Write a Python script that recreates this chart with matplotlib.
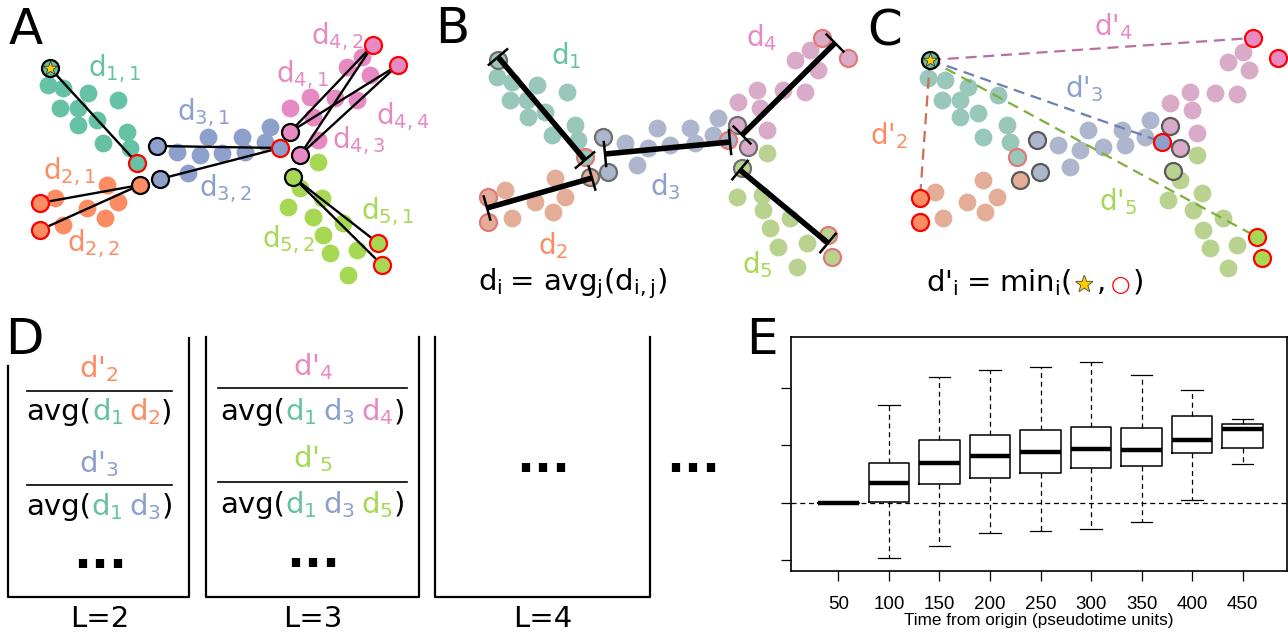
import numpy as np
import matplotlib
matplotlib.use('Agg')
import matplotlib.pyplot as plt
import matplotlib.patheffects as pe
from matplotlib.colors import to_rgb

plt.rcParams['mathtext.default'] = 'regular'
plt.rcParams['mathtext.fontset'] = 'dejavusans'

W, H = 1288, 635

# Set2 colours for the five branches
GREEN, ORANGE, BLUE, PINK, LIME = '#66c2a5', '#fc8d62', '#8da0cb', '#e78ac3', '#a6d854'

# ---- panel A points (pixel positions) ----
a_green = [(48, 85), (63, 88), (88, 93), (118, 100), (60, 108), (78, 108), (97, 120), (78, 125),
           (127, 132), (103, 143), (130, 148)]
a_orange = [(55, 198), (107, 185), (118, 202), (87, 208), (105, 218), (63, 225)]
a_blue = [(208, 137), (242, 137), (270, 127), (177, 152), (200, 155), (222, 153), (245, 152),
          (265, 142), (188, 173)]
a_pink = [(362, 57), (347, 67), (370, 75), (310, 97), (335, 98), (357, 100), (290, 108),
          (313, 117), (318, 140)]
a_lime = [(318, 162), (300, 188), (322, 198), (288, 207), (313, 217), (343, 223), (323, 235),
          (330, 253), (357, 250), (348, 275)]
a_star = (50, 68)
a_black = {ORANGE: [(140, 185)], BLUE: [(157, 146), (160, 179)], PINK: [(290, 132), (300, 155)],
           LIME: [(293, 177)]}
a_red = {GREEN: [(137, 163)], ORANGE: [(40, 203), (40, 230)], BLUE: [(280, 148)],
         PINK: [(373, 45), (398, 65)], LIME: [(378, 243), (382, 265)]}

# ---- panel B points ----
b_green = [(497, 77), (512, 82), (537, 85), (567, 92), (510, 100), (527, 100), (528, 117),
           (545, 112), (575, 125), (552, 135), (578, 140)]
b_orange = [(505, 190), (555, 178), (565, 197), (535, 202), (553, 212), (512, 218)]
b_blue = [(625, 143), (657, 128), (648, 148), (670, 145), (690, 128), (695, 143), (718, 118),
          (713, 135), (637, 165)]
b_pink = [(795, 60), (810, 50), (818, 70), (757, 90), (783, 90), (805, 92), (738, 102),
          (760, 108), (767, 130)]
b_lime = [(767, 153), (737, 197), (762, 195), (763, 210), (790, 218), (770, 228), (778, 247),
          (807, 243), (797, 267)]
b_grey = {GREEN: [(498, 60)], ORANGE: [(590, 177)], BLUE: [(603, 137), (608, 172)],
          PINK: [(737, 125), (748, 147)], LIME: [(742, 168)]}
b_red = {GREEN: [(585, 157)], ORANGE: [(488, 197), (488, 222)], BLUE: [(728, 140)],
         PINK: [(822, 38), (848, 58)], LIME: [(828, 235), (832, 257)]}
b_bars = [((498, 57), (585, 160)), ((487, 208), (592, 178)), ((605, 154), (730, 142)),
          ((742, 135), (835, 43)), ((740, 170), (828, 243))]

# ---- panel C points ----
c_green = [(928, 78), (945, 80), (968, 87), (942, 100), (960, 100), (998, 95), (960, 117),
           (978, 113), (1007, 125), (983, 137), (1010, 142)]
c_orange = [(935, 192), (983, 180), (997, 197), (967, 202), (985, 212), (943, 218)]
c_blue = [(1058, 145), (1088, 130), (1080, 150), (1103, 147), (1122, 130), (1125, 145),
          (1150, 120), (1145, 137), (1070, 167)]
c_pink = [(1228, 62), (1243, 52), (1249, 70), (1190, 92), (1215, 93), (1237, 94), (1170, 103),
          (1192, 110), (1197, 133)]
c_lime = [(1197, 155), (1180, 180), (1168, 200), (1202, 193), (1193, 210), (1223, 218),
          (1203, 230), (1210, 248), (1237, 245), (1228, 268)]
c_star = (930, 60)
c_grey = {ORANGE: [(1020, 180)], BLUE: [(1037, 140), (1040, 172)], PINK: [(1170, 126), (1180, 148)],
          LIME: [(1173, 171)]}
c_red = {ORANGE: [(920, 198), (920, 222)], BLUE: [(1162, 142)], PINK: [(1253, 38), (1278, 58)],
         LIME: [(1257, 237), (1262, 258)]}
c_faint_red = [(1017, 157)]
c_dashes = [((920, 198), '#cd6e4e'), ((1162, 142), '#6b7fb3'), ((1253, 38), '#bb6f9f'),
            ((1257, 237), '#80ad3c')]

# ---- panel E box statistics ----
times = [50, 100, 150, 200, 250, 300, 350, 400, 450]
whis_hi = [0.0, 1.71, 2.19, 2.32, 2.36, 2.45, 2.22, 1.96, 1.46]
q3 = [0.0, 0.70, 1.09, 1.19, 1.27, 1.33, 1.31, 1.52, 1.38]
med = [0.0, 0.345, 0.70, 0.81, 0.88, 0.94, 0.92, 1.09, 1.28]
q1 = [0.0, 0.01, 0.33, 0.44, 0.53, 0.60, 0.64, 0.87, 0.96]
whis_lo = [0.0, -0.96, -0.74, -0.52, -0.48, -0.46, -0.33, 0.05, 0.68]


def fade(c, w=0.5, base='#cccccc'):
    a = np.array(to_rgb(c))
    b = np.array(to_rgb(base))
    return tuple(a * w + b * (1 - w))


fig = plt.figure(figsize=(W / 100, H / 100), dpi=100)
ax = fig.add_axes([0, 0, 1, 1])
ax.set_xlim(0, W)
ax.set_ylim(H, 0)
ax.axis('off')

S = 165
S2 = 150


def dots(pts, color, z=1):
    p = np.array(pts)
    ax.scatter(p[:, 0], p[:, 1], s=S, color=color, lw=0, zorder=z)


def rings(groups, edge, faded, z=3, lw=1.6):
    for col, pts in groups.items():
        p = np.array(pts)
        fc = fade(col) if faded else col
        ax.scatter(p[:, 0], p[:, 1], s=S2, facecolor=fc, edgecolor=edge, lw=lw, zorder=z)


def star(xy):
    ax.scatter([xy[0]], [xy[1]], s=S2, facecolor=GREEN, edgecolor='k', lw=1.6, zorder=4)
    ax.scatter([xy[0]], [xy[1]], s=120, marker='*', facecolor='#ffcc00', edgecolor='#333333',
               lw=0.6, zorder=5)


# ---------------- panel A ----------------
for pts, col in [(a_green, GREEN), (a_orange, ORANGE), (a_blue, BLUE), (a_pink, PINK), (a_lime, LIME)]:
    dots(pts, col)
links = [(a_star, a_red[GREEN][0])]
links += [(a_black[ORANGE][0], r) for r in a_red[ORANGE]]
links += [(b, a_red[BLUE][0]) for b in a_black[BLUE]]
links += [(b, r) for b in a_black[PINK] for r in a_red[PINK]]
links += [(a_black[LIME][0], r) for r in a_red[LIME]]
for p0, p1 in links:
    ax.plot([p0[0], p1[0]], [p0[1], p1[1]], color='k', lw=1.7, zorder=2)
rings(a_black, 'k', False)
rings(a_red, 'red', False)
star(a_star)

lab = dict(fontsize=20, ha='center', va='center')
for s, (x, y), c in [('d$_{1,1}$', (114, 69), GREEN), ('d$_{3,1}$', (203, 113), BLUE),
                     ('d$_{2,1}$', (69, 172), ORANGE), ('d$_{2,2}$', (93, 244), ORANGE),
                     ('d$_{3,2}$', (225, 189), BLUE), ('d$_{4,2}$', (337, 37), PINK),
                     ('d$_{4,1}$', (302, 75), PINK), ('d$_{4,4}$', (403, 117), PINK),
                     ('d$_{4,3}$', (359, 141), PINK), ('d$_{5,1}$', (387, 212), LIME),
                     ('d$_{5,2}$', (288, 240), LIME)]:
    ax.text(x, y, s, color=c, **lab)

# ---------------- panel B ----------------
for pts, col in [(b_green, GREEN), (b_orange, ORANGE), (b_blue, BLUE), (b_pink, PINK), (b_lime, LIME)]:
    dots(pts, fade(col))
rings(b_grey, '#6e6e6e', True)
rings(b_red, '#e07a7a', True)
for p0, p1 in b_bars:
    p0, p1 = np.array(p0, float), np.array(p1, float)
    ax.plot([p0[0], p1[0]], [p0[1], p1[1]], color='k', lw=4, zorder=6, solid_capstyle='butt')
    d = (p1 - p0) / np.linalg.norm(p1 - p0)
    n = np.array([-d[1], d[0]]) * 12
    for p in (p0, p1):
        ax.plot([p[0] - n[0], p[0] + n[0]], [p[1] - n[1], p[1] + n[1]], color='k', lw=1.8, zorder=6)
for s, (x, y), c in [('d$_1$', (566, 56), GREEN), ('d$_4$', (762, 38), PINK),
                     ('d$_3$', (665, 187), BLUE), ('d$_2$', (553, 246), ORANGE),
                     ('d$_5$', (757, 265), LIME)]:
    ax.text(x, y, s, color=c, **lab)

renderer = fig.canvas.get_renderer()


def pieces(xc, yb, parts, fs=20):
    ts, ws = [], []
    for s, c, gap, kw in parts:
        opts = dict(fontsize=fs, ha='left', va='baseline')
        opts.update(kw)
        t = ax.text(0, yb, s, color=c, **opts)
        ts.append(t)
        ws.append(t.get_window_extent(renderer).width + gap)
    x = xc - sum(ws) / 2
    for t, w in zip(ts, ws):
        t.set_x(x)
        x += w


pieces(572, 290, [('d$_i$', 'k', 8, {}), ('=', 'k', 8, {}), ('avg$_j$(d$_{i,j}$)', 'k', 0, {})], fs=21)

# ---------------- panel C ----------------
for pts, col in [(c_green, GREEN), (c_orange, ORANGE), (c_blue, BLUE), (c_pink, PINK), (c_lime, LIME)]:
    dots(pts, fade(col))
rings(c_grey, '#5a5a5a', True)
p = np.array(c_faint_red)
ax.scatter(p[:, 0], p[:, 1], s=S2, facecolor=fade(GREEN), edgecolor='#e07a7a', lw=1.6, zorder=3)
for (x1, y1), col in c_dashes:
    ax.plot([c_star[0], x1], [c_star[1], y1], color=col, lw=1.6, ls=(0, (5, 3)), zorder=2)
rings(c_red, 'red', False, z=4)
star(c_star)
for s, (x, y), c in [("d'$_4$", (1113, 27), PINK), ("d'$_3$", (1084, 89), BLUE),
                     ("d'$_2$", (889, 136), ORANGE), ("d'$_5$", (1118, 202), LIME)]:
    ax.text(x, y, s, color=c, **lab)

star_kw = dict(path_effects=[pe.withStroke(linewidth=1.2, foreground='#444444')], fontsize=15)
pieces(1035, 291, [("d'$_i$", 'k', 8, {}), ('=', 'k', 8, {}), ('min$_i$(', 'k', 3, {}),
                   ('\u2605', '#ffcc00', 3, star_kw), (',', 'k', 5, {}),
                   ('\u25cb', 'red', 2, dict(fontsize=16)), (')', 'k', 0, {})], fs=21)

# ---------------- panel D ----------------
for xl, xr, ytop_l, ytop_r in [(8, 189, 366, 338), (206, 419, 337, 337), (435, 650, 337, 337)]:
    ax.plot([xl, xl, xr, xr], [ytop_l, 597, 597, ytop_r], color='k', lw=1.6, zorder=2)

frac = [(99, "d'$_2$", ORANGE, 377, 391, (27, 172), 420, [(GREEN, '1'), (ORANGE, '2')]),
        (99, "d'$_3$", BLUE, 472, 485, (27, 172), 515, [(GREEN, '1'), (BLUE, '3')]),
        (313, "d'$_4$", PINK, 375, 388, (218, 407), 420, [(GREEN, '1'), (BLUE, '3'), (PINK, '4')]),
        (313, "d'$_5$", LIME, 467, 482, (218, 407), 513, [(GREEN, '1'), (BLUE, '3'), (LIME, '5')])]
for xc, num, ncol, ynum, yline, (x0, x1), yden, terms in frac:
    ax.text(xc, ynum, num, color=ncol, fontsize=21, ha='center', va='baseline')
    ax.plot([x0, x1], [yline, yline], color='k', lw=1.2)
    parts = [('avg(', 'k', 0, {})]
    for i, (c, k) in enumerate(terms):
        parts.append(('d$_%s$' % k, c, 6 if i < len(terms) - 1 else 0, {}))
    parts.append((')', 'k', 0, {}))
    pieces((x0 + x1) / 2, yden, parts, fs=21)

dot_kw = dict(fontsize=34, fontweight='bold', ha='center', va='baseline')
for x, y in [(100, 568), (313, 567), (543, 472), (693, 472)]:
    ax.text(x, y, '...', **dot_kw)
for x, s in [(100, 'L=2'), (313, 'L=3'), (543, 'L=4')]:
    ax.text(x, 627, s, fontsize=21, ha='center', va='baseline')

# panel letters
for s, x, y in [('A', 26, 30), ('B', 452, 29), ('C', 885, 31), ('D', 24, 340), ('E', 762, 340)]:
    ax.text(x, y, s, fontsize=36, ha='center', va='center')

# ---------------- panel E ----------------
axE = fig.add_axes([791 / W, (H - 571) / H, (1287 - 791) / W, (571 - 337) / H])
stats = [dict(med=m, q1=a, q3=b, whislo=lo, whishi=hi, fliers=[])
         for m, a, b, lo, hi in zip(med, q1, q3, whis_lo, whis_hi)]
pos = np.arange(1, len(times) + 1)
axE.bxp(stats, positions=pos, widths=0.8, capwidths=0.42, showfliers=False,
        boxprops=dict(color='k', lw=1.1),
        medianprops=dict(color='k', lw=3.2, solid_capstyle='butt'),
        whiskerprops=dict(color='k', lw=0.9, ls=(0, (4, 3))),
        capprops=dict(color='k', lw=0.9))
axE.axhline(0, color='k', lw=0.9, ls=(0, (4, 3)), zorder=0)
axE.set_xlim(0.06, 9.88)
axE.set_ylim(-1.183, 2.887)
axE.set_yticks([-1, 0, 1, 2])
axE.set_yticklabels([])
axE.set_xticks(pos)
axE.set_xticklabels([str(t) for t in times], fontsize=13.5, family='Liberation Sans')
axE.tick_params(direction='out', length=7, width=0.9, pad=11)
axE.set_xlabel('Time from origin (pseudotime units)', fontsize=12.3, family='Liberation Sans',
               labelpad=0)
for sp in axE.spines.values():
    sp.set_linewidth(1.2)

fig.savefig('out.png', dpi=100)
